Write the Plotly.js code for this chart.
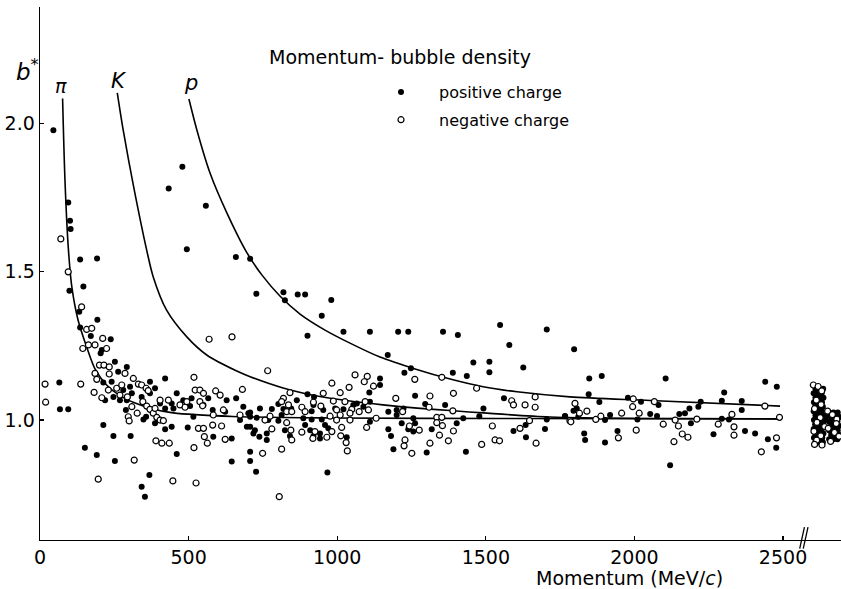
<!DOCTYPE html>
<html>
<head>
<meta charset="utf-8">
<script src="https://cdn.plot.ly/plotly-3.0.1.min.js"></script>
<style>
  html, body { margin: 0; padding: 0; background: #ffffff; }
  #chart { width: 841px; height: 589px; }
</style>
</head>
<body>
<div id="chart"></div>
<script>
// Tracks with positive charge: momentum (MeV/c) and relative bubble density b*
const posMomentum = [45,95,101,103,479,433,558,494,659,707,135,192,99,146,728,819,824,867,193,132,135,171,238,892,980,948,900,1021,1110,1205,1239,1356,1406,1548,1705,1579,1797,1170,1458,1512,1512,1626,1248,1226,1389,1436,1144,1144,1108,900,922,864,802,740,780,707,845,819,920,914,953,993,1021,1066,1054,1088,1110,729,768,802,886,892,914,948,959,942,970,909,707,723,763,738,824,841,763,920,942,1032,1110,1172,1200,1223,1200,1296,1262,1363,1492,1424,1402,1256,1262,1256,1217,1239,1172,1181,1318,1189,1301,1433,1478,1561,1593,1634,1635,1699,1705,1767,707,707,727,967,208,204,252,263,292,241,213,247,219,269,280,292,309,303,342,370,387,370,289,357,398,387,348,421,404,421,449,460,443,482,510,505,566,550,516,628,660,684,701,673,696,718,707,645,65,67,95,213,247,305,151,191,252,368,342,353,460,497,421,443,583,645,581,623,813,1848,1890,2105,1846,1882,1978,2022,2081,1766,1795,1806,1811,1901,1918,2010,2053,2076,1831,1834,1901,1943,2151,2170,2185,2190,2215,2223,2294,2302,2294,2318,2361,2361,2266,2372,2406,2440,2479,2449,2477,2120];
const posB = [1.976,1.733,1.671,1.643,1.853,1.780,1.722,1.575,1.549,1.543,1.541,1.544,1.435,1.450,1.425,1.430,1.403,1.423,1.338,1.365,1.312,1.283,1.272,1.423,1.404,1.351,1.284,1.297,1.297,1.297,1.297,1.297,1.286,1.320,1.305,1.253,1.238,1.219,1.194,1.196,1.161,1.177,1.174,1.159,1.159,1.148,1.140,1.118,1.093,1.087,1.078,1.067,1.054,1.039,1.037,1.025,1.039,1.037,1.051,1.030,1.034,1.039,1.036,1.056,1.051,1.045,1.062,1.008,1.000,0.998,1.006,0.983,1.002,1.002,0.983,0.955,0.972,0.966,0.977,0.966,0.955,0.944,0.966,0.946,0.933,0.946,0.938,0.942,0.994,1.028,1.034,1.039,1.017,1.054,1.082,1.051,1.039,1.006,0.989,1.006,0.989,0.961,0.989,0.969,0.969,0.946,0.969,0.902,0.891,0.893,1.013,1.073,0.963,0.983,0.942,0.970,1.002,1.013,0.893,0.862,0.826,0.823,1.236,1.225,1.196,1.163,1.179,1.129,1.126,1.078,1.067,1.067,1.101,1.067,1.090,1.112,1.078,1.129,1.107,1.090,1.034,1.011,1.000,0.989,1.002,1.140,1.056,1.039,1.039,1.090,1.056,1.067,1.073,1.047,1.073,1.051,1.011,1.067,1.073,1.045,1.023,1.000,0.977,0.955,1.011,0.938,1.126,1.036,1.036,0.983,0.946,0.946,0.907,0.882,0.862,0.815,0.775,0.742,0.886,0.975,0.969,0.977,0.944,0.860,1.034,1.028,1.017,1.140,1.148,1.140,1.087,1.061,1.075,1.062,1.051,1.014,1.031,1.039,1.011,1.000,1.017,1.002,1.020,1.014,0.955,0.933,0.924,0.963,1.020,1.023,1.039,0.989,1.045,1.062,1.065,1.093,1.004,1.002,1.064,1.034,0.952,0.963,0.955,1.129,1.112,0.935,0.907,0.848];

// Tracks with negative charge
const negMomentum = [70,95,140,157,174,211,569,646,1060,1101,1352,1261,766,841,819,813,836,830,847,881,892,920,945,953,982,1010,1040,1091,1122,987,1026,1049,998,976,1010,1043,1094,1074,1105,1131,774,757,780,830,844,847,881,918,925,965,982,998,1015,1012,1030,1034,1099,1043,749,813,805,1197,1312,1309,1220,1335,1352,1335,1354,1276,1243,1228,1225,1251,1312,1344,1374,1391,1389,1391,1469,1522,1486,1531,1546,1587,1593,1632,1666,1666,1615,1647,1669,1783,17,19,137,144,163,185,224,200,215,233,233,286,185,191,182,208,230,258,275,314,331,342,357,364,269,294,309,297,300,327,346,359,370,381,393,404,415,387,404,432,471,488,494,518,522,538,550,538,547,591,606,583,617,581,533,550,611,553,563,623,681,673,390,410,435,518,317,196,447,525,1800,1840,1815,1786,1870,1887,1957,1994,1996,2016,2067,2006,1946,2097,2137,2148,2161,2180,2133,2210,2282,2328,2335,2335,2439,2488,2427,2478];
const negB = [1.610,1.499,1.381,1.305,1.309,1.275,1.272,1.280,1.152,1.147,1.144,1.137,1.166,1.092,1.073,1.062,1.051,1.028,1.028,1.043,1.028,1.060,1.047,1.090,1.124,1.092,1.110,1.129,1.114,1.064,1.062,1.036,1.034,1.013,1.017,1.000,1.062,1.028,1.034,1.006,1.013,1.000,0.970,0.991,0.966,0.933,0.959,0.938,0.961,0.942,0.961,1.000,0.975,0.947,0.924,0.896,0.975,1.023,0.888,0.902,0.742,1.073,1.081,1.043,1.028,1.009,1.009,0.991,0.981,0.966,0.980,0.933,0.913,0.888,0.922,0.949,0.930,0.963,1.031,1.090,1.107,0.980,0.918,0.933,0.930,1.065,1.051,1.051,1.078,1.043,0.972,0.998,0.922,0.998,1.121,1.060,1.121,1.241,1.253,1.253,1.241,1.185,1.185,1.179,1.155,1.157,1.157,1.137,1.093,1.075,1.101,1.107,1.118,1.140,1.121,1.118,1.107,1.099,1.084,1.078,1.045,1.011,0.997,1.023,1.062,1.047,1.036,1.023,1.009,1.000,0.998,1.039,1.067,1.067,1.051,1.043,1.062,1.144,1.101,1.101,1.090,1.062,1.048,1.098,1.084,1.017,1.034,0.983,0.972,0.972,0.980,0.944,0.922,0.935,1.103,1.017,0.930,0.922,0.922,0.907,0.865,0.801,0.795,0.788,1.056,1.030,1.023,0.994,1.002,1.013,1.023,1.045,1.071,1.023,1.062,0.966,0.940,0.986,1.000,0.980,0.953,0.942,0.927,1.003,0.986,1.019,0.977,0.949,1.047,1.009,0.893,0.940];

// Tracks above 2500 MeV/c, gathered past the axis break
const posHighMomentum = [2609,2622,2635, 2603,2616,2630, 2609,2622,2636, 2604,2617,2631, 2608,2622,2634, 2603,2616,2630, 2609,2623,2637,2648, 2604,2617,2631,2644, 2608,2622,2635, 2603,2617,2630, 2609,2623,2636, 2604,2618,2632, 2609,2621,2634,
  2656,2670,2684, 2662,2676,2690, 2655,2669,2683, 2661,2675,2689, 2656,2670,2684, 2662,2676,2690, 2655,2669,2683];
const posHighB = [1.105,1.105,1.105, 1.090,1.090,1.090, 1.075,1.075,1.075, 1.060,1.060,1.060, 1.045,1.045,1.045, 1.030,1.030,1.030, 1.015,1.015,1.015,1.015, 1.000,1.000,1.000,1.000, 0.985,0.985,0.985, 0.970,0.970,0.970, 0.955,0.955,0.955, 0.940,0.940,0.940, 0.925,0.925,0.925,
  1.025,1.025,1.025, 1.010,1.010,1.010, 0.995,0.995,0.995, 0.980,0.980,0.980, 0.965,0.965,0.965, 0.950,0.950,0.950, 0.935,0.935,0.935];
const negHighMomentum = [2602,2618,2630,2612,2628,2606,2625,2614,2640,2604,2627,2613,2606,2631,2650,2666,2681,2652,2673,2688,2660,2679];
const negHighB = [1.118,1.113,1.098,1.067,1.052,1.038,1.008,0.992,0.978,0.962,0.947,0.932,0.918,0.916,1.030,1.018,1.003,0.972,0.958,0.945,0.928,0.988];

// Expected curves for pions, kaons and protons
const pionMomentum = [76,84,95,107,128,157,185,224,269,320,370,448,649,976,1548,2490];
const pionB = [2.083,1.808,1.583,1.449,1.337,1.246,1.172,1.118,1.082,1.057,1.040,1.024,1.012,1.007,1.005,1.004];
const kaonMomentum = [260,280,314,359,381,426,494,561,662,707,818,932,1043,1154,1269,1380,1491,1716,2053,2490];
const kaonB = [2.102,1.976,1.791,1.572,1.482,1.370,1.280,1.219,1.165,1.146,1.108,1.081,1.064,1.051,1.040,1.032,1.024,1.010,1.005,1.004];
const protonMomentum = [501,528,572,629,697,747,808,875,959,1043,1144,1262,1380,1491,1605,1783,2053,2490];
const protonB = [2.081,1.976,1.832,1.697,1.562,1.488,1.417,1.357,1.303,1.259,1.212,1.172,1.138,1.112,1.095,1.078,1.066,1.047];

// Axis ticks
const xTickVals = [0,500,1000,1500,2000,2500];
const xTickText = ['0','500','1000','1500','2000','2500'];
const yTickVals = [1.0,1.5,2.0];
const yTickText = ['1.0','1.5','2.0'];

const FONT = 'DejaVu Sans, Liberation Sans, sans-serif';

function curve(xs, ys) {
  return {
    x: xs, y: ys, type: 'scatter', mode: 'lines',
    line: { color: '#000', width: 1.6, shape: 'spline', smoothing: 0.8 },
    showlegend: false, hoverinfo: 'skip'
  };
}

const traces = [
  curve(pionMomentum, pionB),
  curve(kaonMomentum, kaonB),
  curve(protonMomentum, protonB),
  {
    x: posMomentum.concat(posHighMomentum), y: posB.concat(posHighB),
    type: 'scatter', mode: 'markers', name: 'positive charge',
    legendgroup: 'pos',
    marker: { symbol: 'circle', size: 6, color: '#000', line: { width: 0 } }
  },
  {
    x: negMomentum.concat(negHighMomentum), y: negB.concat(negHighB),
    type: 'scatter', mode: 'markers', name: 'negative charge',
    legendgroup: 'neg',
    marker: { symbol: 'circle', size: 6, color: '#fff', line: { width: 1.2, color: '#000' } }
  }
];

// place text in paper units of the plot area (801 x 533 px)
const px = v => (v - 40) / 801;
const py = v => (540 - v) / 533;

const layout = {
  width: 841, height: 589,
  margin: { l: 40, r: 0, t: 7, b: 49, pad: 0 },
  paper_bgcolor: '#fff', plot_bgcolor: '#fff',
  font: { family: FONT, color: '#000', size: 19 },
  hovermode: false,
  showlegend: true,
  legend: {
    x: px(363), y: py(75), xanchor: 'left', yanchor: 'top',
    bgcolor: 'rgba(0,0,0,0)', borderwidth: 0,
    font: { family: FONT, size: 16, color: '#000' },
    itemwidth: 66, tracegroupgap: 4, traceorder: 'grouped'
  },
  xaxis: {
    range: [0, 2695], tickmode: 'array', tickvals: xTickVals, ticktext: xTickText,
    ticks: 'inside', ticklen: 4, tickwidth: 1.2, tickcolor: '#000',
    showline: true, linecolor: '#000', linewidth: 1.4,
    showgrid: false, zeroline: false, fixedrange: true,
    tickfont: { family: FONT, size: 19, color: '#000' }
  },
  yaxis: {
    range: [0.596, 2.391], tickmode: 'array', tickvals: yTickVals, ticktext: yTickText,
    ticks: 'inside', ticklen: 4, tickwidth: 1.2, tickcolor: '#000',
    showline: true, linecolor: '#000', linewidth: 1.4,
    showgrid: false, zeroline: false, fixedrange: true,
    tickfont: { family: FONT, size: 19, color: '#000' }
  },
  annotations: [
    { text: 'Momentum- bubble density', xref: 'paper', yref: 'paper',
      x: px(267), y: py(57), xanchor: 'left', yanchor: 'middle', showarrow: false,
      font: { family: FONT, size: 19 } },
    { text: '<i>b</i><sup>*</sup>', xref: 'paper', yref: 'paper',
      x: px(27), y: py(70), xanchor: 'center', yanchor: 'middle', showarrow: false,
      font: { family: FONT, size: 23 } },
    { text: '<i>π</i>', xref: 'paper', yref: 'paper',
      x: px(61), y: py(86), xanchor: 'center', yanchor: 'middle', showarrow: false,
      font: { family: FONT, size: 19 } },
    { text: '<i>K</i>', xref: 'paper', yref: 'paper',
      x: px(119), y: py(81), xanchor: 'center', yanchor: 'middle', showarrow: false,
      font: { family: FONT, size: 21 } },
    { text: '<i>p</i>', xref: 'paper', yref: 'paper',
      x: px(191), y: py(83), xanchor: 'center', yanchor: 'middle', showarrow: false,
      font: { family: FONT, size: 21 } },
    { text: 'Momentum (MeV/<i>c</i>)', xref: 'paper', yref: 'paper',
      x: px(629), y: py(578), xanchor: 'center', yanchor: 'middle', showarrow: false,
      font: { family: FONT, size: 19 } }
  ],
  shapes: [
    // axis break marks between 2500 and the high-momentum group
    { type: 'line', xref: 'x', yref: 'paper', x0: 2556, x1: 2572, y0: -0.016, y1: 0.024,
      line: { color: '#000', width: 1.3 } },
    { type: 'line', xref: 'x', yref: 'paper', x0: 2568, x1: 2584, y0: -0.016, y1: 0.024,
      line: { color: '#000', width: 1.3 } }
  ]
};

Plotly.newPlot('chart', traces, layout, { staticPlot: true, displayModeBar: false });
</script>
</body>
</html>
